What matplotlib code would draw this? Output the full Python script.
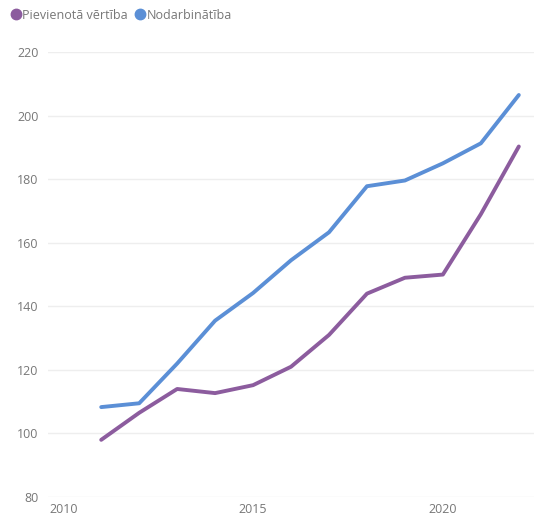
import matplotlib.pyplot as plt
from matplotlib.lines import Line2D

plt.rcParams['font.family'] = ['Open Sans', 'DejaVu Sans']

years = [2011, 2012, 2013, 2014, 2015, 2016, 2017, 2018, 2019, 2020, 2021, 2022]
pievienota = [98, 106.5, 114, 112.7, 115.2, 121, 131, 144, 149, 150, 169, 190.3]
nodarbinatiba = [108.3, 109.5, 122, 135.5, 144.2, 154.5, 163.3, 177.8, 179.6, 185, 191.3, 206.5]
names = ["Pievienotā vērtība", "Nodarbinātība"]
colors = ["#8c5c9e", "#5b8fd6"]

fig = plt.figure(figsize=(5.34, 5.21), dpi=100)
ax = fig.add_axes([0.09, 0.046, 0.91, 0.854])

ax.plot(years, pievienota, color=colors[0], linewidth=2.8, solid_capstyle='round')
ax.plot(years, nodarbinatiba, color=colors[1], linewidth=2.8, solid_capstyle='round')

ax.set_ylim(80, 220)
ax.set_xlim(2009.6, 2022.4)
ax.set_yticks(range(80, 221, 20))
ax.set_xticks([2010, 2015, 2020])
ax.grid(axis='y', color='#eeeeee', linewidth=1)
ax.set_axisbelow(True)
for s in ax.spines.values():
    s.set_visible(False)
ax.tick_params(length=0, labelsize=9, colors='#777777')
ax.tick_params(axis='y', pad=7)
ax.tick_params(axis='x', pad=4)

handles = [Line2D([], [], marker='o', linestyle='', color=c, markersize=7.5) for c in colors]
fig.legend(handles, names, loc='upper left', bbox_to_anchor=(-0.005, 1.005), ncol=2,
           frameon=False, fontsize=9, labelcolor='#777777', handletextpad=-0.1,
           columnspacing=0.4, handlelength=1.2)

fig.savefig("out.png", dpi=100)
